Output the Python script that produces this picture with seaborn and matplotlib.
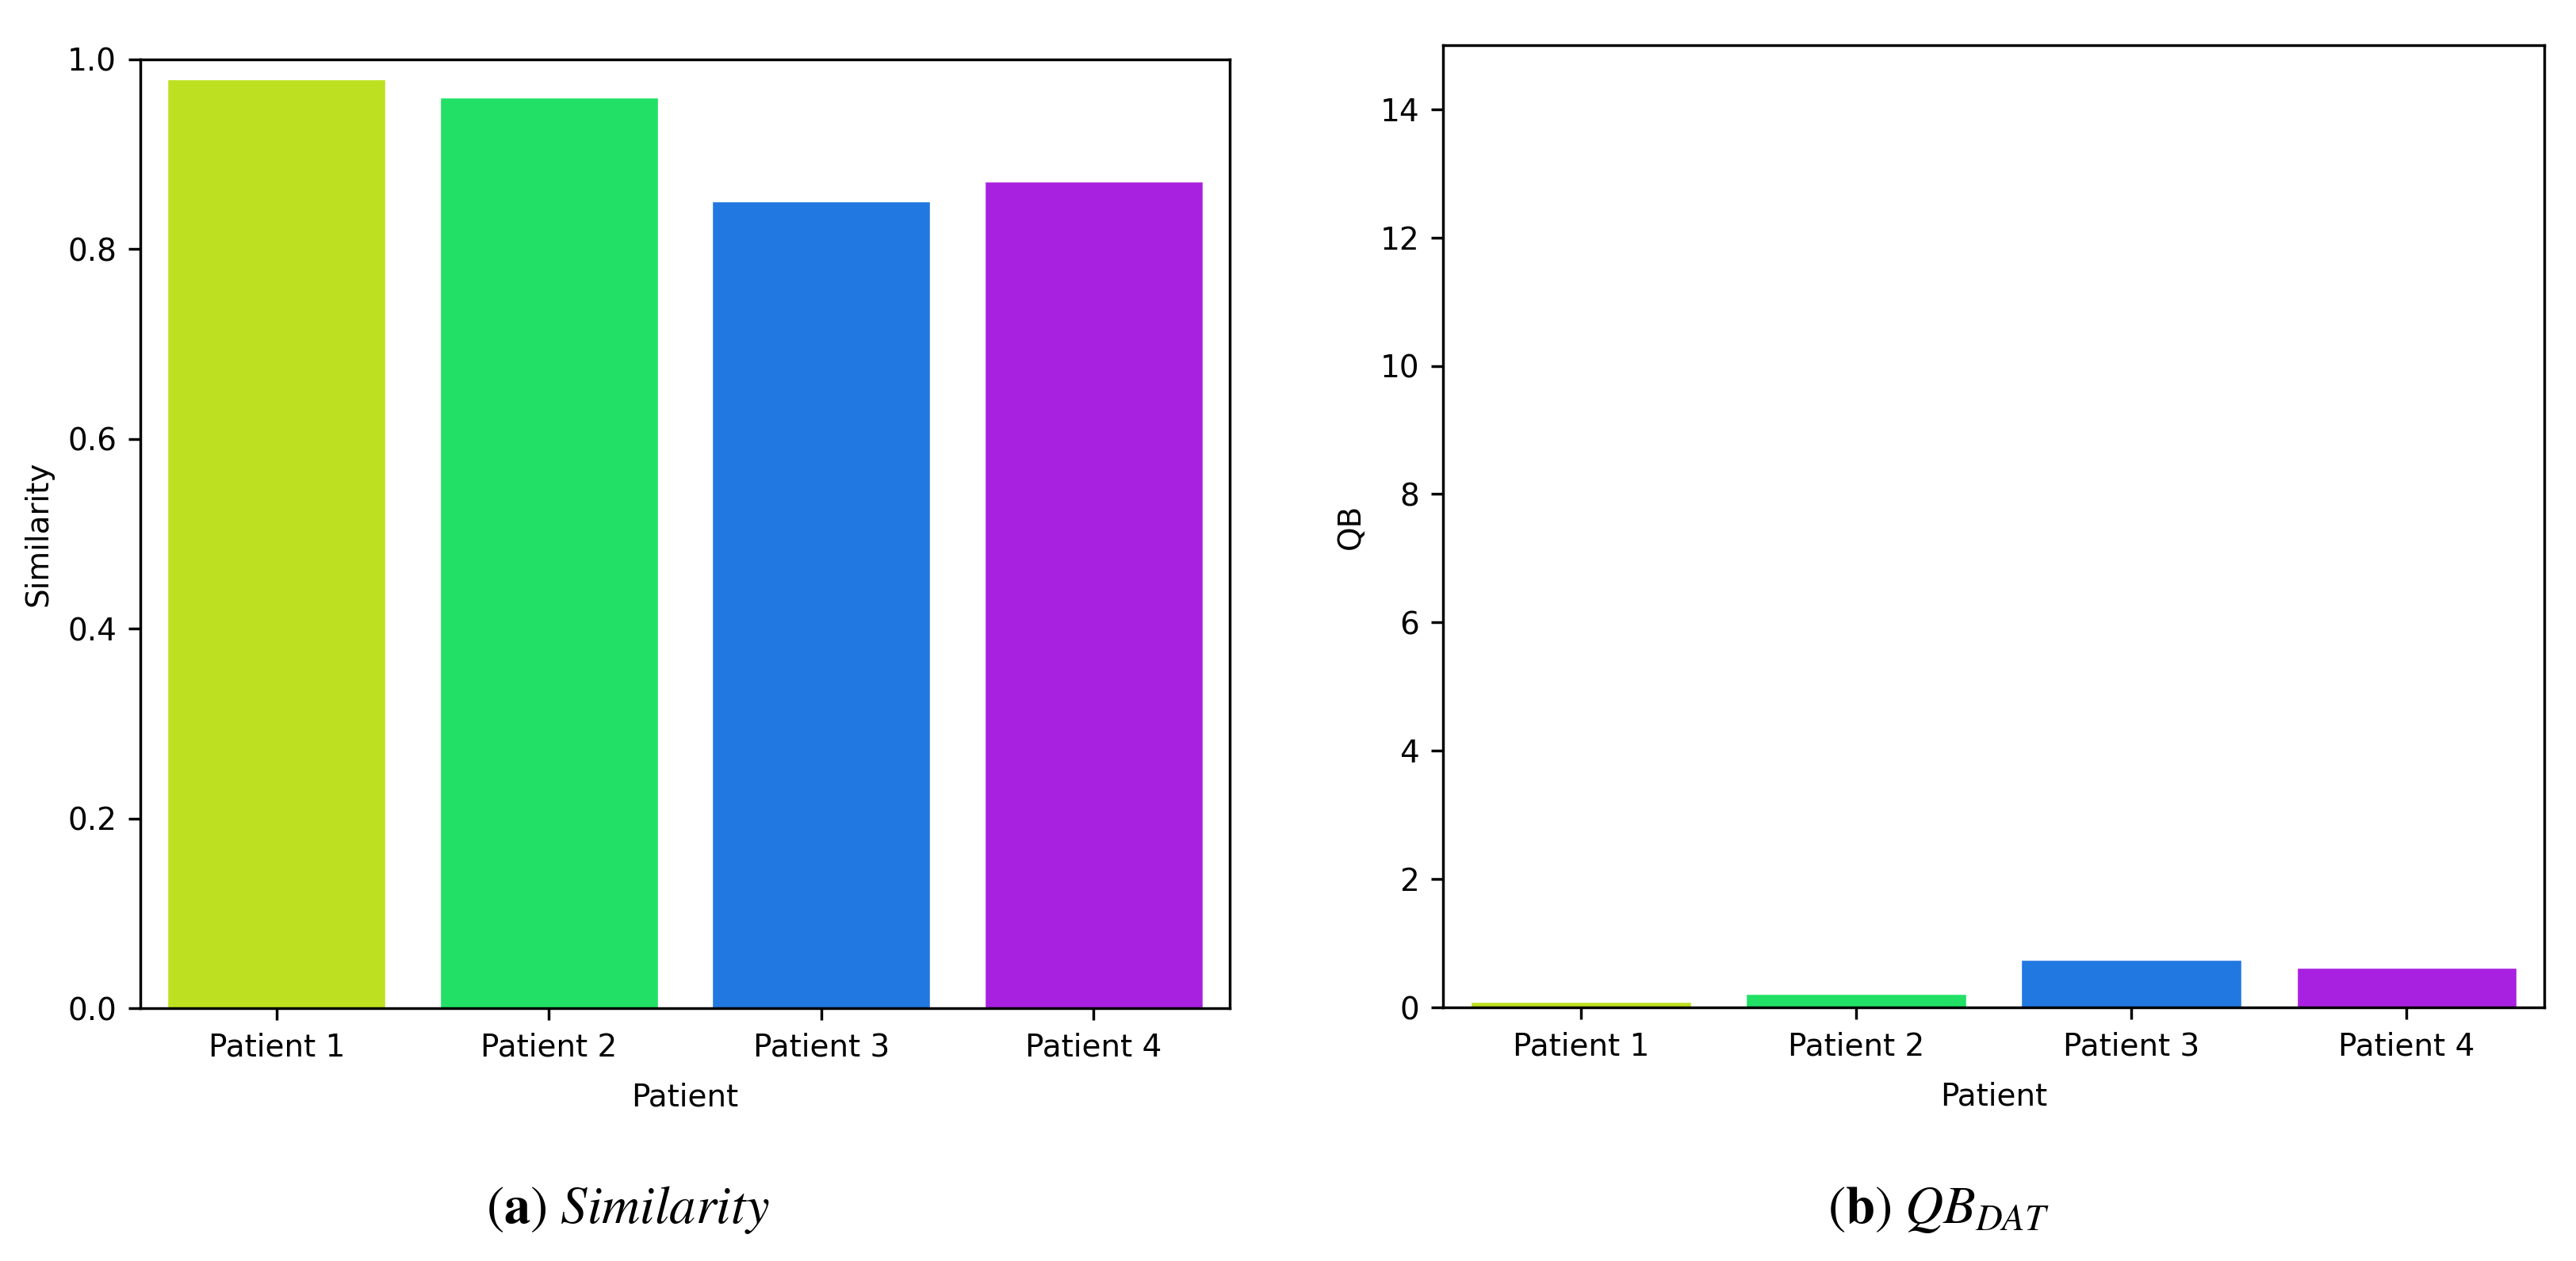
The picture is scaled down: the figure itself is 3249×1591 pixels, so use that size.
import matplotlib
matplotlib.use('Agg')
import matplotlib.pyplot as plt
import seaborn as sns
import pandas as pd

# ─────────────────────────────────────────
# Data
# ─────────────────────────────────────────
patients = ['Patient 1', 'Patient 2', 'Patient 3', 'Patient 4']
similarity = [0.979, 0.960, 0.850, 0.871]
qb_dat = [0.09, 0.21, 0.74, 0.62]
colors = ['#bde021', '#22e066', '#2178e0', '#a821e0']

df = pd.DataFrame({'Patient': patients, 'Similarity': similarity, 'QB': qb_dat})

# matplotlib defaults scaled ~3x (figure was exported at high dpi)
S = 3.09
sns.set_style('ticks')
plt.rcParams['font.family'] = ['DejaVu Sans']
plt.rcParams['text.color'] = 'black'
plt.rcParams['axes.labelcolor'] = 'black'
plt.rcParams['axes.edgecolor'] = 'black'
plt.rcParams['axes.linewidth'] = 0.8 * S
plt.rcParams['axes.labelsize'] = 28
plt.rcParams['axes.labelpad'] = 4 * S
plt.rcParams['mathtext.fontset'] = 'stix'
for k in ['xtick', 'ytick']:
    plt.rcParams[f'{k}.major.size'] = 3.5 * S
    plt.rcParams[f'{k}.major.width'] = 0.8 * S
    plt.rcParams[f'{k}.major.pad'] = 3.5 * S
    plt.rcParams[f'{k}.labelsize'] = 28
    plt.rcParams[f'{k}.color'] = 'black'
    plt.rcParams[f'{k}.labelcolor'] = 'black'

fig = plt.figure(figsize=(32.49, 15.91), dpi=100)
ax1 = fig.add_axes([0.0545, 0.2005, 0.4229, 0.7524])
ax2 = fig.add_axes([0.5602, 0.2011, 0.4275, 0.7632])

# ─────────────────────────────────────────
# (a) Similarity
# ─────────────────────────────────────────
sns.barplot(data=df, x='Patient', y='Similarity', hue='Patient',
            palette=colors, legend=False, saturation=1, ax=ax1)
ax1.set_ylim(0, 1.0)
ax1.set_yticks([0.0, 0.2, 0.4, 0.6, 0.8, 1.0])

# ─────────────────────────────────────────
# (b) QB_DAT
# ─────────────────────────────────────────
sns.barplot(data=df, x='Patient', y='QB', hue='Patient',
            palette=colors, legend=False, saturation=1, ax=ax2)
ax2.set_ylim(0, 15)
ax2.set_yticks(range(0, 15, 2))

for ax in (ax1, ax2):
    for s in ax.spines.values():
        s.set_visible(True)
    ax.set_xlabel('Patient', labelpad=4 * S + 6)

# captions below each panel
fig.text(0.2438, 0.0302, r'$(\mathbf{a})\ \mathit{Similarity}$',
         ha='center', va='baseline', fontsize=48)
fig.text(0.7525, 0.0302, r'$(\mathbf{b})\ QB_{DAT}$',
         ha='center', va='baseline', fontsize=48)

fig.savefig('out.png', dpi=100, facecolor='white')
